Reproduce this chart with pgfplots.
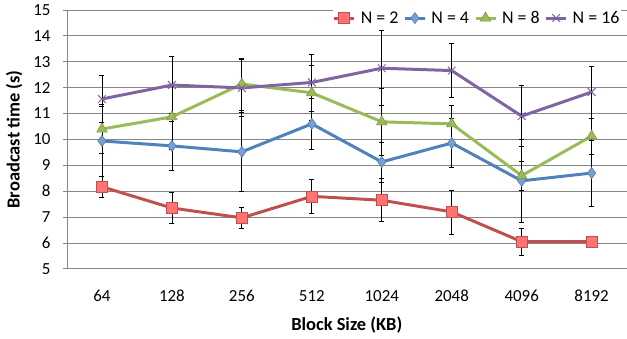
\documentclass[border=0pt]{standalone}
\usepackage{pgfplots}
\pgfplotsset{compat=1.18}
\usepackage{fontspec}
\setmainfont{Carlito}
\definecolor{cred}{HTML}{C0504D}
\definecolor{cblue}{HTML}{4F81BD}
\definecolor{cgreen}{HTML}{9BBB59}
\definecolor{cpurple}{HTML}{8064A2}
\definecolor{gridc}{HTML}{868686}
\begin{document}
\begin{tikzpicture}[x=1bp,y=1bp]
\begin{axis}[
  scale only axis, width=560bp, height=259bp,
  xmin=-0.5, xmax=7.5, ymin=5, ymax=15,
  xtick={0,...,7}, xticklabels={64,128,256,512,1024,2048,4096,8192},
  ytick={5,...,15},
  ymajorgrids, grid style={gridc, line width=0.8pt},
  axis x line*=bottom, axis y line*=left,
  axis line style={gridc, line width=0.8pt},
  x axis line style={draw=none},
  major tick length=4bp,
  xtick style={draw=none},
  ytick style={gridc, line width=0.8pt},
  tick align=outside,
  /pgf/number format/assume math mode=true,
  tick label style={font=\fontsize{17}{19}\selectfont, black},
  xticklabel style={yshift=-14bp},
  yticklabel style={xshift=-9bp},
  ylabel={\bfseries Broadcast time (s)},
  xlabel={\bfseries Block Size (KB)},
  label style={font=\fontsize{18.5}{20}\selectfont},
  ylabel style={yshift=4bp},
  xlabel style={yshift=-8bp},
  legend style={at={(1,1)}, anchor=north east, draw=none, fill=white, legend columns=4,
    font=\fontsize{18}{20}\selectfont, column sep=3bp, inner sep=0bp, yshift=1bp, xshift=-5bp},
  legend image code/.code={\draw[#1, mark repeat=2, mark phase=2] plot coordinates {(0bp,0bp) (10bp,0bp) (20bp,0bp)};},
  every axis plot/.append style={line width=3pt,
    error bars/y dir=both, error bars/y explicit,
    error bars/error bar style={black, line width=0.7pt},
    error bars/error mark options={black, line width=0.7pt, rotate=90, mark size=2.5bp}},
]
\addplot[cred, mark=square*, mark size=5.5bp, mark options={fill=red!55!white, draw=cred, line width=0.6pt}]
  coordinates {(0,8.17)+-(0,0.42) (1,7.35)+-(0,0.6) (2,6.97)+-(0,0.4) (3,7.8)+-(0,0.67)
   (4,7.65)+-(0,0.83) (5,7.2)+-(0,0.85) (6,6.05)+-(0,0.52) (7,6.05)+-(0,0.15)};
\addlegendentry{N = 2}
\addplot[cblue, mark=diamond*, mark size=5.5bp, mark options={fill=cblue!75!white, draw=cblue, line width=0.6pt}]
  coordinates {(0,9.94)+-(0,1.35) (1,9.75)+-(0,0.93) (2,9.52)+-(0,1.52) (3,10.6)+-(0,0.97)
   (4,9.13)+-(0,0.77) (5,9.86)+-(0,0.95) (6,8.4)+-(0,1.6) (7,8.7)+-(0,1.28)};
\addlegendentry{N = 4}
\addplot[cgreen, mark=triangle*, mark size=6bp, mark options={fill=cgreen, draw=cgreen!80!black, line width=0.6pt}]
  coordinates {(0,10.4)+-(0,0.95) (1,10.87)+-(0,1.25) (2,12.14)+-(0,1.0) (3,11.8)+-(0,1.05)
   (4,10.68)+-(0,1.3) (5,10.6)+-(0,0.7) (6,8.6)+-(0,0.55) (7,10.13)+-(0,0.7)};
\addlegendentry{N = 8}
\addplot[cpurple, mark=x, mark size=5.5bp, mark options={draw=cpurple, line width=1pt}]
  coordinates {(0,11.56)+-(0,0.9) (1,12.1)+-(0,1.1) (2,11.99)+-(0,1.1) (3,12.2)+-(0,1.1)
   (4,12.75)+-(0,1.45) (5,12.66)+-(0,1.05) (6,10.9)+-(0,1.17) (7,11.83)+-(0,1.0)};
\addlegendentry{N = 16}
\end{axis}
\path[use as bounding box] (-67bp,-70bp) rectangle (560bp,269bp);
\end{tikzpicture}
\end{document}
